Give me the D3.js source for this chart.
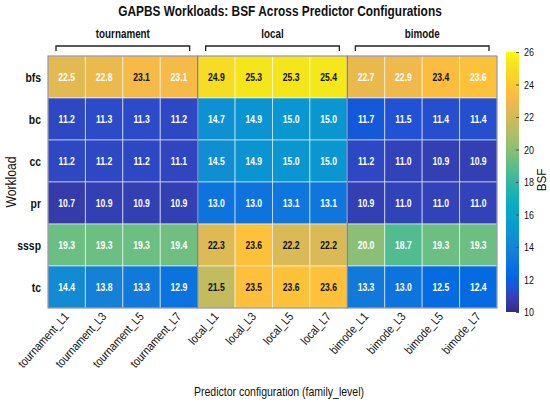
<!DOCTYPE html>
<html>
<head>
<meta charset="utf-8">
<script src="https://cdn.jsdelivr.net/npm/d3@7"></script>
<style>
  body { margin: 0; background: #fff; }
  text { font-family: "Liberation Sans", Arial, sans-serif; fill: #111; }
</style>
</head>
<body>
<svg width="550" height="404"></svg>
<script>
// data
const workloads = ["bfs", "bc", "cc", "pr", "sssp", "tc"];
const families = ["tournament", "local", "bimode"];
const levels = ["L1", "L3", "L5", "L7"];
const configs = families.flatMap(f => levels.map(l => f + "_" + l));

const bfs  = [22.5, 22.8, 23.1, 23.1, 24.9, 25.3, 25.3, 25.4, 22.7, 22.9, 23.4, 23.6];
const bc   = [11.2, 11.3, 11.3, 11.2, 14.7, 14.9, 15.0, 15.0, 11.7, 11.5, 11.4, 11.4];
const cc   = [11.2, 11.2, 11.2, 11.1, 14.5, 14.9, 15.0, 15.0, 11.2, 11.0, 10.9, 10.9];
const pr   = [10.7, 10.9, 10.9, 10.9, 13.0, 13.0, 13.1, 13.1, 10.9, 11.0, 11.0, 11.0];
const sssp = [19.3, 19.3, 19.3, 19.4, 22.3, 23.6, 22.2, 22.2, 20.0, 18.7, 19.3, 19.3];
const tc   = [14.4, 13.8, 13.3, 12.9, 21.5, 23.5, 23.6, 23.6, 13.3, 13.0, 12.5, 12.4];
const rows = [bfs, bc, cc, pr, sssp, tc];

const colorTicks = [10, 12, 14, 16, 18, 20, 22, 24, 26];
// labels printed in black outside the local block
const darkOutsideLocal = ["bfs|tournament_L5", "bfs|bimode_L5"];

const cells = [];
workloads.forEach((w, i) => {
  configs.forEach((c, j) => {
    cells.push({ workload: w, config: c, family: c.split("_")[0], value: rows[i][j] });
  });
});

const svg = d3.select("svg");

const x = d3.scaleBand().domain(configs).range([48, 497]);
const y = d3.scaleBand().domain(workloads).range([56, 308]);

// parula colormap (64 entries)
const parula = [
  [0.2081,0.1663,0.5292],[0.2116,0.1898,0.5777],[0.2123,0.2138,0.6270],[0.2081,0.2386,0.6771],
  [0.1959,0.2645,0.7279],[0.1707,0.2919,0.7792],[0.1253,0.3242,0.8303],[0.0591,0.3598,0.8683],
  [0.0117,0.3875,0.8820],[0.0060,0.4086,0.8828],[0.0165,0.4266,0.8786],[0.0329,0.4430,0.8720],
  [0.0498,0.4586,0.8641],[0.0629,0.4737,0.8554],[0.0723,0.4887,0.8467],[0.0779,0.5040,0.8384],
  [0.0793,0.5200,0.8312],[0.0749,0.5375,0.8263],[0.0641,0.5570,0.8240],[0.0488,0.5772,0.8228],
  [0.0343,0.5966,0.8199],[0.0265,0.6137,0.8135],[0.0239,0.6287,0.8038],[0.0231,0.6418,0.7913],
  [0.0228,0.6535,0.7768],[0.0267,0.6642,0.7607],[0.0384,0.6743,0.7436],[0.0590,0.6838,0.7254],
  [0.0843,0.6928,0.7062],[0.1133,0.7015,0.6859],[0.1453,0.7098,0.6646],[0.1801,0.7177,0.6424],
  [0.2178,0.7250,0.6193],[0.2586,0.7317,0.5954],[0.3022,0.7376,0.5712],[0.3482,0.7424,0.5473],
  [0.3953,0.7459,0.5244],[0.4420,0.7481,0.5033],[0.4871,0.7491,0.4840],[0.5300,0.7491,0.4661],
  [0.5709,0.7485,0.4494],[0.6099,0.7473,0.4337],[0.6473,0.7456,0.4188],[0.6834,0.7435,0.4044],
  [0.7184,0.7411,0.3905],[0.7525,0.7384,0.3768],[0.7858,0.7356,0.3633],[0.8185,0.7327,0.3498],
  [0.8507,0.7299,0.3360],[0.8824,0.7274,0.3217],[0.9139,0.7258,0.3063],[0.9450,0.7261,0.2886],
  [0.9739,0.7314,0.2666],[0.9938,0.7455,0.2403],[0.9990,0.7653,0.2164],[0.9955,0.7861,0.1967],
  [0.9880,0.8066,0.1794],[0.9789,0.8271,0.1633],[0.9697,0.8481,0.1475],[0.9626,0.8705,0.1309],
  [0.9589,0.8949,0.1132],[0.9598,0.9218,0.0948],[0.9661,0.9514,0.0755],[0.9763,0.9831,0.0538]
].map(c => d3.rgb(c[0] * 255, c[1] * 255, c[2] * 255).formatHex());

const color = d3.scaleLinear()
  .domain(parula.map((_, i) => 10 + 16 * i / (parula.length - 1)))
  .range(parula)
  .clamp(true);

// text helper: narrow the glyphs horizontally to match the condensed face of the original
function label(parent, x0, y0, str, opts) {
  const o = Object.assign({ size: 12, weight: "normal", anchor: "middle", sx: 0.85, rot: 0 }, opts);
  return parent.append("text")
    .attr("transform", `translate(${x0},${y0}) rotate(${o.rot}) scale(${o.sx},1)`)
    .attr("text-anchor", o.anchor)
    .style("font-size", o.size + "px")
    .style("font-weight", o.weight)
    .text(str);
}

// title
label(svg, 280, 16, "GAPBS Workloads: BSF Across Predictor Configurations",
  { size: 14.5, weight: "bold", sx: 0.82 });

// cells
svg.append("g").selectAll("rect")
  .data(cells)
  .join("rect")
    .attr("x", d => x(d.config))
    .attr("y", d => y(d.workload))
    .attr("width", x.bandwidth())
    .attr("height", y.bandwidth())
    .attr("fill", d => color(d.value))
    .attr("stroke", "rgba(255,255,255,0.55)")
    .attr("stroke-width", 1);

// family outlines + brackets
families.forEach(f => {
  const x0 = x(f + "_" + levels[0]);
  const x1 = x(f + "_" + levels[levels.length - 1]) + x.bandwidth();
  svg.append("rect")
    .attr("x", x0).attr("y", y.range()[0])
    .attr("width", x1 - x0).attr("height", y.range()[1] - y.range()[0])
    .attr("fill", "none")
    .attr("stroke", "#80809a")
    .attr("stroke-width", 1);

  const bx0 = x0 + 8, bx1 = x1 - 8, by = 46;
  svg.append("path")
    .attr("d", `M${bx0},${by + 5}V${by}H${bx1}V${by + 5}`)
    .attr("fill", "none")
    .attr("stroke", "#222")
    .attr("stroke-width", 1.3);
  label(svg, (x0 + x1) / 2, 38, f, { size: 12, weight: "bold", sx: 0.82 });
});

// cell labels
const cellText = svg.append("g");
cells.forEach(d => {
  const dark = (d.family === "local" && d.value > 21) ||
    darkOutsideLocal.includes(d.workload + "|" + d.config);
  label(cellText, x(d.config) + x.bandwidth() / 2, y(d.workload) + y.bandwidth() / 2 + 3.8,
    d.value.toFixed(1), { size: 10.5, weight: "bold", sx: 0.82 })
    .style("fill", dark ? "#111" : "#fff");
});

// y axis labels
workloads.forEach(w => {
  label(svg, 41, y(w) + y.bandwidth() / 2 + 4.5, w, { size: 13, weight: "bold", anchor: "end", sx: 0.8 });
});
label(svg, 16, (y.range()[0] + y.range()[1]) / 2, "Workload", { size: 14, rot: -90, sx: 0.87 });

// x axis labels, rotated
configs.forEach(c => {
  label(svg, x(c) + x.bandwidth() / 2 + 3, y.range()[1] + 9, c,
    { size: 12, anchor: "end", rot: -48, sx: 0.86 });
});
label(svg, 279, 396, "Predictor configuration (family_level)", { size: 13, sx: 0.81 });

// colorbar
const cbX = 506, cbW = 13;
const cy = d3.scaleLinear().domain([10, 26]).range([312, 52]);
const grad = svg.append("defs").append("linearGradient")
  .attr("id", "cbar")
  .attr("x1", 0).attr("y1", 1).attr("x2", 0).attr("y2", 0);
parula.forEach((c, i) => {
  grad.append("stop")
    .attr("offset", i / (parula.length - 1))
    .attr("stop-color", c);
});
svg.append("rect")
  .attr("x", cbX).attr("y", cy(26))
  .attr("width", cbW).attr("height", cy(10) - cy(26))
  .attr("fill", "url(#cbar)");

const cAxis = svg.append("g")
  .attr("transform", `translate(${cbX + cbW},0)`)
  .call(d3.axisRight(cy).tickValues(colorTicks).tickSize(-3).tickFormat(() => ""));
cAxis.select(".domain").remove();
cAxis.selectAll(".tick line").attr("stroke", "#555");
colorTicks.forEach(t => {
  label(svg, cbX + cbW + 5, cy(t) + 4, String(t), { size: 11.5, anchor: "start", sx: 0.78 });
});

label(svg, 546, (cy(10) + cy(26)) / 2 - 2, "BSF", { size: 13, rot: -90, sx: 0.9 });
</script>
</body>
</html>
